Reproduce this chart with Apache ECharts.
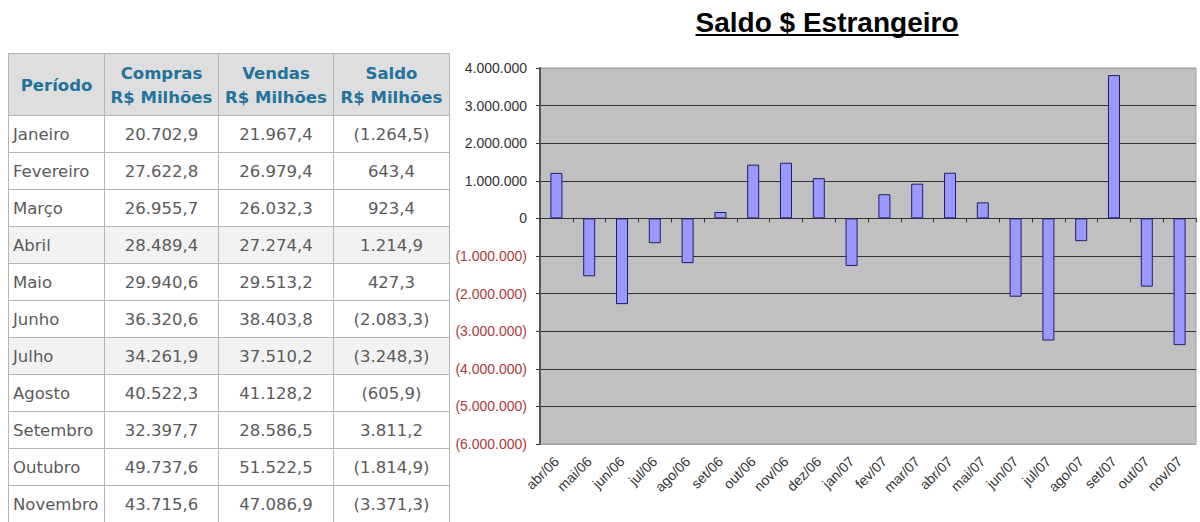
<!DOCTYPE html>
<html>
<head>
<meta charset="utf-8">
<script src="https://cdn.jsdelivr.net/npm/echarts@6/dist/echarts.min.js"></script>
<style>
  body { margin: 0; background: #fff; }
  #all { position: absolute; left: 0; top: 0; width: 1200px; height: 522px; }
  #tabela {
    position: absolute; left: 8px; top: 53px; z-index: 2;
    border-collapse: collapse; table-layout: fixed; width: 441px;
    font-family: "DejaVu Sans", sans-serif; font-size: 16.5px; color: #5a5a5a;
  }
  #tabela th, #tabela td { border: 1px solid #b5b5b5; padding: 0; white-space: nowrap; overflow: hidden; }
  #tabela th { background: #dedede; color: #23729b; font-size: 16.5px; font-weight: bold; height: 59px; line-height: 24px; padding-top: 2px; }
  #tabela td { height: 36px; text-align: center; }
  #tabela td.p { text-align: left; padding-left: 4px; }
  #tabela tr.s td { background: #f2f2f2; }
</style>
</head>
<body>
<table id="tabela">
  <colgroup><col style="width:96px"><col style="width:114px"><col style="width:115px"><col style="width:116px"></colgroup>
  <thead><tr><th>Período</th><th>Compras<br>R$ Milhões</th><th>Vendas<br>R$ Milhões</th><th>Saldo<br>R$ Milhões</th></tr></thead>
  <tbody id="corpo"></tbody>
</table>
<div id="all"></div>
<script>
// tabela (R$ milhões)
var periodos = ['Janeiro','Fevereiro','Março','Abril','Maio','Junho','Julho','Agosto','Setembro','Outubro','Novembro'];
var compras = [20702.9, 27622.8, 26955.7, 28489.4, 29940.6, 36320.6, 34261.9, 40522.3, 32397.7, 49737.6, 43715.6];
var vendas = [21967.4, 26979.4, 26032.3, 27274.4, 29513.2, 38403.8, 37510.2, 41128.2, 28586.5, 51522.5, 47086.9];
var saldo = [-1264.5, 643.4, 923.4, 1214.9, 427.3, -2083.3, -3248.3, -605.9, 3811.2, -1814.9, -3371.3];

// grafico
var titulo = 'Saldo $ Estrangeiro';
var meses = ['abr/06','mai/06','jun/06','jul/06','ago/06','set/06','out/06','nov/06','dez/06','jan/07',
             'fev/07','mar/07','abr/07','mai/07','jun/07','jul/07','ago/07','set/07','out/07','nov/07'];
var saldoMensal = [1210000, -1540000, -2280000, -660000, -1190000, 170000, 1430000, 1480000, 1070000, -1264500,
                   643400, 923400, 1214900, 427300, -2083300, -3248300, -605900, 3811200, -1814900, -3371300];

function milhar(n) {
    return String(n).replace(/\B(?=(\d{3})+(?!\d))/g, '.');
}
function fmt(v) {
    var a = Math.abs(v);
    var inteiro = Math.floor(a + 1e-9);
    var dec = Math.round((a - inteiro) * 10);
    var s = milhar(inteiro) + ',' + dec;
    return v < 0 ? '(' + s + ')' : s;
}

var corpo = document.getElementById('corpo');
periodos.forEach(function (p, i) {
    var tr = document.createElement('tr');
    if (i === 3 || i === 6) tr.className = 's';
    tr.innerHTML = '<td class="p">' + p + '</td><td>' + fmt(compras[i]) + '</td><td>' + fmt(vendas[i]) +
        '</td><td>' + fmt(saldo[i]) + '</td>';
    corpo.appendChild(tr);
});

// largura do titulo para o sublinhado
var fonteTitulo = 'bold 28px "Liberation Sans"';
var ctx = document.createElement('canvas').getContext('2d');
ctx.font = fonteTitulo;
var larg = ctx.measureText(titulo).width;
var cx = 827;

var myChart = echarts.init(document.getElementById('all'), null, {renderer: 'svg'});

var corGrade = ['#a0a0a0', '#333', '#333', '#333', '#333', '#333', '#333', '#333', '#333', '#333', '#a0a0a0'];

option = {
    animation: false,
    graphic: [
        {
            type: 'text', x: cx, y: 22,
            style: {text: titulo, font: fonteTitulo, fill: '#000', align: 'center', verticalAlign: 'middle'}
        },
        {
            type: 'rect', shape: {x: cx - larg / 2, y: 34, width: larg, height: 2},
            style: {fill: '#000'}
        }
    ],
    grid: {
        left: 540, right: 4, top: 68, bottom: 78,
        outerBoundsMode: 'none',
        show: true, backgroundColor: '#c0c0c0', borderColor: '#a0a0a0', borderWidth: 1
    },
    xAxis: [
        {
            type: 'category',
            data: meses,
            position: 'bottom',
            axisLine: {show: false, onZero: false},
            axisTick: {show: false},
            axisLabel: {rotate: 45, interval: 0, fontSize: 14, color: '#333', fontFamily: 'Liberation Sans', margin: 15}
        },
        {
            type: 'category',
            data: meses,
            position: 'bottom',
            axisLine: {show: true, onZero: true, lineStyle: {color: '#333', width: 1}},
            axisTick: {show: true, interval: 0, length: 4, lineStyle: {color: '#333'}},
            axisLabel: {show: false}
        }
    ],
    yAxis: {
        type: 'value',
        min: -6000000,
        max: 4000000,
        interval: 1000000,
        axisLine: {show: true, lineStyle: {color: '#555', width: 2}},
        axisTick: {show: true, length: 4, lineStyle: {color: '#333'}},
        splitLine: {show: true, lineStyle: {color: corGrade, width: 1}},
        axisLabel: {
            margin: 13,
            fontSize: 14,
            fontFamily: 'Liberation Sans',
            formatter: function (v) {
                var s = milhar(Math.abs(v));
                return v < 0 ? '{n|(' + s + ')}' : '{p|' + s + '}';
            },
            rich: {
                n: {color: '#a83c3c', fontSize: 14, fontFamily: 'Liberation Sans'},
                p: {color: '#333', fontSize: 14, fontFamily: 'Liberation Sans'}
            }
        }
    },
    series: [
        {
            name: titulo,
            type: 'bar',
            data: saldoMensal,
            barWidth: 12,
            itemStyle: {color: '#9999ff', borderColor: '#1e1e66', borderWidth: 1}
        }
    ]
};

myChart.setOption(option);
window.onresize = myChart.resize;
</script>
</body>
</html>
